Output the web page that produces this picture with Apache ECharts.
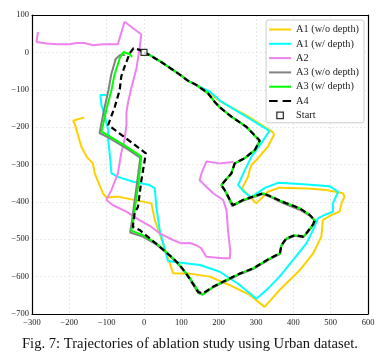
<!DOCTYPE html>
<html><head><meta charset="utf-8">
<script src="https://cdn.jsdelivr.net/npm/echarts@6/dist/echarts.min.js"></script>
<style>html,body{margin:0;padding:0;background:#fff}#c{width:388px;height:363px}</style>
</head><body><div id="c"></div>
<script>
const seriesNames = ['A1 (w/o depth)', 'A1 (w/ depth)', 'A2', 'A3 (w/o depth)', 'A3 (w/ depth)', 'A4', 'Start'];
const seriesColors = ['#FFD000', '#00FFFF', '#EE82EE', '#808080', '#00FF00', '#000000', '#000000'];

const a1WoDepth = [[0,0],[15,-7],[51,-29],[91,-56],[118,-76],[140,-87],[175,-108],[200,-128],[215,-137],[280,-172],[346,-214],[348,-221],[332,-252],[301,-288],[288,-301],[283,-315],[279,-332],[263,-364],[285,-388],[301,-404],[332,-373],[363,-362],[440,-364],[488,-368],[533,-377],[537,-386],[529,-404],[524,-426],[502,-435],[479,-449],[475,-493],[453,-538],[417,-583],[363,-636],[323,-681],[283,-649],[230,-623],[176,-600],[122,-592],[78,-591],[51,-511],[29,-449],[20,-404],[15,-400],[-70,-386],[-101,-388],[-110,-377],[-123,-346],[-132,-324],[-137,-297],[-154,-279],[-168,-252],[-186,-190],[-190,-183],[-160,-174]];

const a1WDepth = [[0,0],[15,-7],[51,-29],[91,-56],[118,-76],[140,-87],[176,-105],[207,-132],[274,-172],[336,-210],[314,-243],[288,-279],[279,-297],[270,-315],[252,-355],[270,-375],[287,-388],[325,-362],[359,-349],[417,-352],[497,-358],[520,-373],[506,-404],[506,-426],[484,-435],[466,-444],[453,-475],[435,-511],[399,-556],[363,-600],[328,-636],[301,-659],[252,-619],[203,-587],[150,-569],[100,-563],[64,-558],[60,-556],[51,-510],[42,-475],[33,-413],[29,-364],[15,-355],[-29,-346],[-70,-333],[-87,-324],[-92,-270],[-96,-234],[-96,-207],[-105,-170],[-114,-141],[-117,-114],[-101,-114]];

const a2 = [[-284,55],[-288,28],[-260,24],[-230,22],[-200,22],[-181,25],[-160,25],[-146,22],[-137,19],[-110,22],[-70,22],[-52,82],[-7,48],[-12,10],[-20,-42],[-34,-96],[-43,-135],[-47,-160],[-47,-194],[-52,-234],[-61,-270],[-70,-324],[-87,-368],[-101,-395],[-83,-409],[-47,-426],[-12,-449],[20,-467],[42,-484],[78,-502],[100,-511],[123,-510],[140,-516],[153,-524],[167,-547],[212,-551],[230,-551],[231,-530],[225,-476],[221,-422],[212,-395],[185,-377],[149,-342],[154,-324],[167,-292],[203,-297],[240,-293]];

const a3WoDepth = [[0,0],[15,-7],[51,-29],[91,-56],[118,-76],[140,-87],[171,-109],[189,-132],[203,-147],[234,-172],[274,-199],[310,-237],[297,-261],[270,-283],[243,-297],[234,-324],[207,-355],[216,-368],[236,-411],[265,-397],[292,-388],[319,-379],[341,-388],[372,-403],[417,-421],[446,-438],[459,-451],[453,-462],[435,-486],[426,-495],[404,-491],[381,-500],[368,-518],[364,-540],[337,-553],[292,-580],[256,-594],[221,-611],[185,-629],[156,-648],[145,-644],[118,-598],[87,-562],[60,-536],[33,-514],[-3,-493],[-37,-482],[-32,-449],[-20,-359],[-10,-282],[-50,-255],[-95,-228],[-119,-216],[-115,-195],[-107,-154],[-95,-100],[-88,-60],[-76,-18],[-63,-6],[-50,-8]];

const a3WDepth = [[0,0],[15,-7],[51,-29],[91,-56],[118,-76],[140,-87],[171,-109],[189,-132],[203,-147],[234,-172],[274,-199],[310,-237],[297,-261],[270,-283],[243,-297],[234,-324],[207,-355],[216,-368],[238,-409],[265,-395],[292,-386],[319,-377],[341,-386],[372,-400],[417,-417],[444,-435],[457,-449],[453,-460],[435,-484],[426,-493],[404,-489],[381,-498],[368,-516],[364,-538],[337,-551],[292,-578],[256,-592],[221,-609],[185,-627],[158,-648],[150,-645],[118,-596],[87,-560],[60,-534],[33,-511],[-3,-489],[-34,-477],[-29,-449],[-16,-359],[-7,-279],[-47,-252],[-92,-225],[-114,-212],[-110,-195],[-101,-154],[-87,-100],[-79,-60],[-65,-16],[-55,1],[-38,-5],[-32,-12]];

const a4 = [[0,0],[15,-7],[51,-29],[91,-56],[118,-76],[140,-87],[171,-109],[189,-132],[203,-147],[234,-172],[274,-199],[310,-236],[297,-261],[270,-283],[243,-297],[234,-324],[207,-355],[216,-368],[238,-409],[265,-395],[292,-386],[319,-377],[341,-386],[372,-400],[417,-417],[444,-435],[457,-449],[453,-460],[435,-484],[426,-493],[404,-489],[381,-498],[368,-516],[364,-538],[337,-551],[292,-578],[256,-592],[221,-609],[185,-627],[158,-645],[145,-641],[122,-605],[96,-569],[78,-551],[42,-520],[-12,-475],[-30,-467],[-25,-430],[-16,-413],[-7,-342],[5,-270],[-96,-194],[-78,-145],[-65,-100],[-61,-65],[-52,-38],[-38,-2],[-28,11],[-12,7],[0,0]];

const startPoint = [[0,0]];

const xTicks = [-300,-200,-100,0,100,200,300,400,500,600];
const yTicks = [-700,-600,-500,-400,-300,-200,-100,0,100];
const caption = 'Fig. 7: Trajectories of ablation study using Urban dataset.';

const FONT = "'Liberation Serif','DejaVu Serif',serif";
const fmt = v => String(v).replace('-', '\u2212');

const ICON_SOLID = 'path://M0,0H22V2H0Z';
const ICON_DASH = 'path://M0,0H8.5V2.2H0Z M13.5,0H22V2.2H13.5Z';
const ICON_SQUARE = 'path://M0,0H10V10H0Z';

const lineData = [a1WoDepth, a1WDepth, a2, a3WoDepth, a3WDepth, a4];
const series = lineData.map((d, i) => ({
  name: seriesNames[i],
  type: 'line',
  data: d,
  symbol: 'none',
  smooth: false,
  z: 2 + i,
  xAxisIndex: 0, yAxisIndex: 0,
  lineStyle: i === 5
    ? { color: seriesColors[i], width: 2.2, type: [6, 3.5] }
    : { color: seriesColors[i], width: 2 },
  itemStyle: { color: seriesColors[i] },
  animation: false
}));
series.push({
  name: seriesNames[6],
  type: 'scatter',
  data: startPoint,
  symbol: 'rect',
  symbolSize: 6,
  z: 20,
  xAxisIndex: 0, yAxisIndex: 0,
  itemStyle: { color: '#ffffff', borderColor: '#000', borderWidth: 1.2 },
  animation: false
});

const frameAxis = { show: true, onZero: false, lineStyle: { color: '#000', width: 1.2 } };

const chart = echarts.init(document.getElementById('c'), null, { renderer: 'canvas' });
chart.setOption({
  animation: false,
  backgroundColor: '#ffffff',
  title: {
    text: caption,
    left: 22,
    top: 337,
    padding: 0,
    textStyle: { fontFamily: FONT, fontSize: 14.6, fontWeight: 'normal', color: '#111' }
  },
  grid: { left: 32, right: 20, top: 15, bottom: 49, show: false },
  legend: {
    data: seriesNames.map((n, i) => {
      if (i === 6) return { name: n, icon: ICON_SQUARE, itemStyle: { color: '#fff', borderColor: '#000', borderWidth: 1.3 } };
      return { name: n, icon: i === 5 ? ICON_DASH : ICON_SOLID };
    }),
    orient: 'vertical',
    right: 24,
    top: 20,
    itemWidth: 22,
    itemHeight: 6.5,
    itemGap: 4.3,
    symbolKeepAspect: true,
    padding: [4.5, 5, 2.5, 3],
    backgroundColor: '#fff',
    borderColor: '#cccccc',
    borderWidth: 1,
    borderRadius: 2,
    textStyle: { fontFamily: FONT, fontSize: 10.3, color: '#222' }
  },
  xAxis: [{
    type: 'value', position: 'bottom',
    min: xTicks[0], max: xTicks[xTicks.length - 1], interval: 100,
    axisLine: frameAxis,
    axisTick: { show: false },
    axisLabel: { fontFamily: FONT, fontSize: 8.5, color: '#222', margin: 4, formatter: fmt },
    splitLine: { show: true, lineStyle: { color: '#e2e2e2', width: 0.8, type: [2, 2] } }
  }, {
    type: 'value', position: 'top',
    min: xTicks[0], max: xTicks[xTicks.length - 1], interval: 100,
    axisLine: frameAxis, axisTick: { show: false }, axisLabel: { show: false }, splitLine: { show: false }
  }],
  yAxis: [{
    type: 'value', position: 'left',
    min: yTicks[0], max: yTicks[yTicks.length - 1], interval: 100,
    axisLine: frameAxis,
    axisTick: { show: false },
    axisLabel: { fontFamily: FONT, fontSize: 8.5, color: '#222', margin: 3, formatter: fmt },
    splitLine: { show: true, lineStyle: { color: '#e2e2e2', width: 0.8, type: [2, 2] } }
  }, {
    type: 'value', position: 'right',
    min: yTicks[0], max: yTicks[yTicks.length - 1], interval: 100,
    axisLine: frameAxis, axisTick: { show: false }, axisLabel: { show: false }, splitLine: { show: false }
  }],
  series: series
});
</script>
</body></html>
